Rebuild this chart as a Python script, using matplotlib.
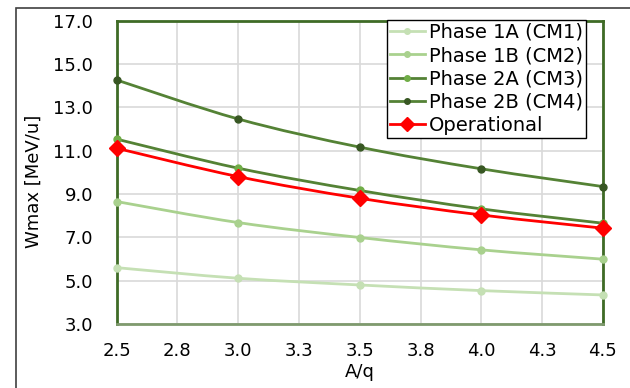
import matplotlib.pyplot as plt
from matplotlib.patches import Rectangle, PathPatch
from matplotlib.path import Path
from matplotlib.lines import Line2D

a_over_q = [2.5, 3.0, 3.5, 4.0, 4.5]
phase_1a = [5.60, 5.11, 4.80, 4.54, 4.34]
phase_1b = [8.65, 7.68, 6.99, 6.42, 5.99]
phase_2a = [11.53, 10.19, 9.16, 8.31, 7.65]
phase_2b = [14.26, 12.46, 11.16, 10.16, 9.34]
operational = [11.11, 9.80, 8.80, 8.03, 7.42]

x_ticks = [2.5, 2.75, 3.0, 3.25, 3.5, 3.75, 4.0, 4.25, 4.5]
x_tick_labels = ['2.5', '2.8', '3.0', '3.3', '3.5', '3.8', '4.0', '4.3', '4.5']
y_ticks = [3, 5, 7, 9, 11, 13, 15, 17]

plt.rcParams['font.family'] = ['DejaVu Sans']


def smooth_path(xs, ys):
    # excel-style smoothed line: cubic bezier segments through the points
    n = len(xs)
    verts = [(xs[0], ys[0])]
    codes = [Path.MOVETO]
    for i in range(n - 1):
        i0, i3 = max(i - 1, 0), min(i + 2, n - 1)
        c1 = (xs[i] + (xs[i + 1] - xs[i0]) / 6, ys[i] + (ys[i + 1] - ys[i0]) / 6)
        c2 = (xs[i + 1] - (xs[i3] - xs[i]) / 6, ys[i + 1] - (ys[i3] - ys[i]) / 6)
        verts += [c1, c2, (xs[i + 1], ys[i + 1])]
        codes += [Path.CURVE4] * 3
    return Path(verts, codes)


fig = plt.figure(figsize=(6.3, 3.88), dpi=100)
ax = fig.add_axes([0.185, 0.165, 0.772, 0.782])

# outer chart frame (only left/top visible in the original)
fig.patches.append(Rectangle((16 / 630, -0.1), 1.2, 1 - 8 / 388 + 0.1,
                             transform=fig.transFigure, fill=False,
                             edgecolor='#404040', linewidth=1.2))

series = [
    ('Phase 1A (CM1)', phase_1a, '#c5e0b4', '#c5e0b4', 'o', 5),
    ('Phase 1B (CM2)', phase_1b, '#a9d18e', '#a9d18e', 'o', 5),
    ('Phase 2A (CM3)', phase_2a, '#548235', '#70ad47', 'o', 5),
    ('Phase 2B (CM4)', phase_2b, '#548235', '#385723', 'o', 5),
    ('Operational', operational, '#ff0000', '#ff0000', 'D', 8),
]
handles = []
for label, vals, lc, mc, mk, ms in series:
    ax.add_patch(PathPatch(smooth_path(a_over_q, vals), fill=False,
                           edgecolor=lc, linewidth=2, zorder=3))
    ax.plot(a_over_q, vals, linestyle='none', marker=mk, markersize=ms,
            markerfacecolor=mc, markeredgecolor=mc, clip_on=False, zorder=4)
    handles.append(Line2D([], [], color=lc, linewidth=2, marker=mk,
                          markersize=ms - 1, markerfacecolor=mc,
                          markeredgecolor=mc, label=label))

ax.set_xlim(2.5, 4.5)
ax.set_ylim(3, 17)
ax.set_xticks(x_ticks)
ax.set_xticklabels(x_tick_labels)
ax.set_yticks(y_ticks)
ax.set_yticklabels(['%.1f' % v for v in y_ticks])
ax.tick_params(length=0, labelsize=13)
ax.tick_params(axis='y', pad=17)
ax.tick_params(axis='x', pad=13)
ax.grid(True, color='#d9d9d9', linewidth=1.2)
ax.set_axisbelow(True)
for side in ['left', 'top', 'right']:
    ax.spines[side].set_color('#3f6b26')
    ax.spines[side].set_linewidth(2)
ax.spines['bottom'].set_color('#7f9a6e')
ax.spines['bottom'].set_linewidth(2)

ax.set_xlabel('A/q', fontsize=13, labelpad=2)
ax.set_ylabel('Wmax [MeV/u]', fontsize=13)
ax.yaxis.set_label_coords(-0.152, 0.47)

leg = fig.legend(handles=handles, loc='upper left',
                 bbox_to_anchor=(387 / 630, 1 - 20 / 388),
                 fontsize=14, frameon=True, fancybox=False, handlelength=1.8,
                 handletextpad=0.2, labelspacing=0.22, borderpad=0.15,
                 borderaxespad=0)
leg.get_frame().set_edgecolor('black')
leg.get_frame().set_linewidth(1)
leg.get_frame().set_alpha(1)

fig.savefig('out.png', dpi=100)
